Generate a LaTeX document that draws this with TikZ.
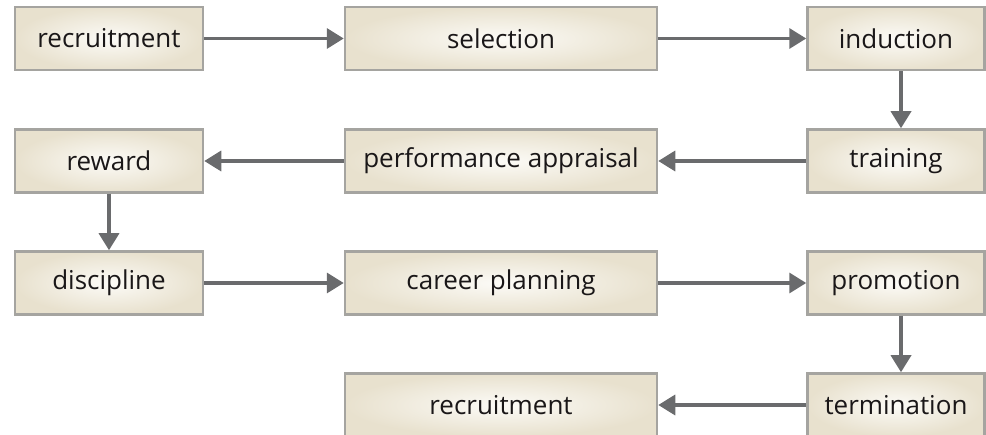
\documentclass[tikz,border=0pt]{standalone}
\usepackage{fontspec}
\setmainfont{Open Sans}
\usetikzlibrary{arrows.meta}
\definecolor{boxborder}{HTML}{A5A4A0}
\definecolor{boxouter}{HTML}{E8E1CE}
\definecolor{boxinner}{HTML}{FCFBF7}
\definecolor{arrowgray}{HTML}{6A6B6D}
\definecolor{txt}{HTML}{1A1718}
\tikzset{
  stage/.style={draw=boxborder, line width=2.5pt, inner color=boxinner, outer color=boxouter,
    minimum height=63pt, text=txt, font=\fontsize{26}{30}\selectfont, inner sep=0pt},
  narrow/.style={stage, minimum width=188pt},
  wide/.style={stage, minimum width=312pt},
  right/.style={stage, minimum width=177pt},
  arr/.style={draw=arrowgray, line width=3.5pt, -{Triangle[length=17pt,width=20pt]}}
}
\begin{document}
\begin{tikzpicture}[x=1pt,y=-1pt]
\useasboundingbox (0,0) rectangle (986,435);
\node[narrow] (a1) at (109,38.5) {recruitment};
\node[wide]   (a2) at (501,38.5) {selection};
\node[right]  (a3) at (896,38.5) {induction};
\node[narrow] (b1) at (109,161) {reward};
\node[wide]   (b2) at (501,161) {performance appraisal};
\node[right]  (b3) at (896,161) {training};
\node[narrow] (c1) at (109,283) {discipline};
\node[wide]   (c2) at (501,283) {career planning};
\node[right]  (c3) at (896,283) {promotion};
\node[wide]   (d2) at (501,405) {recruitment};
\node[right]  (d3) at (896,405) {termination};
\draw[arr] (a1) -- (a2);
\draw[arr] (a2) -- (a3);
\draw[arr] ([xshift=5pt]a3.south) -- ([xshift=5pt]b3.north);
\draw[arr] (b3) -- (b2);
\draw[arr] (b2) -- (b1);
\draw[arr] (b1) -- (c1);
\draw[arr] (c1) -- (c2);
\draw[arr] (c2) -- (c3);
\draw[arr] ([xshift=5pt]c3.south) -- ([xshift=5pt]d3.north);
\draw[arr] (d3) -- (d2);
\end{tikzpicture}
\end{document}
